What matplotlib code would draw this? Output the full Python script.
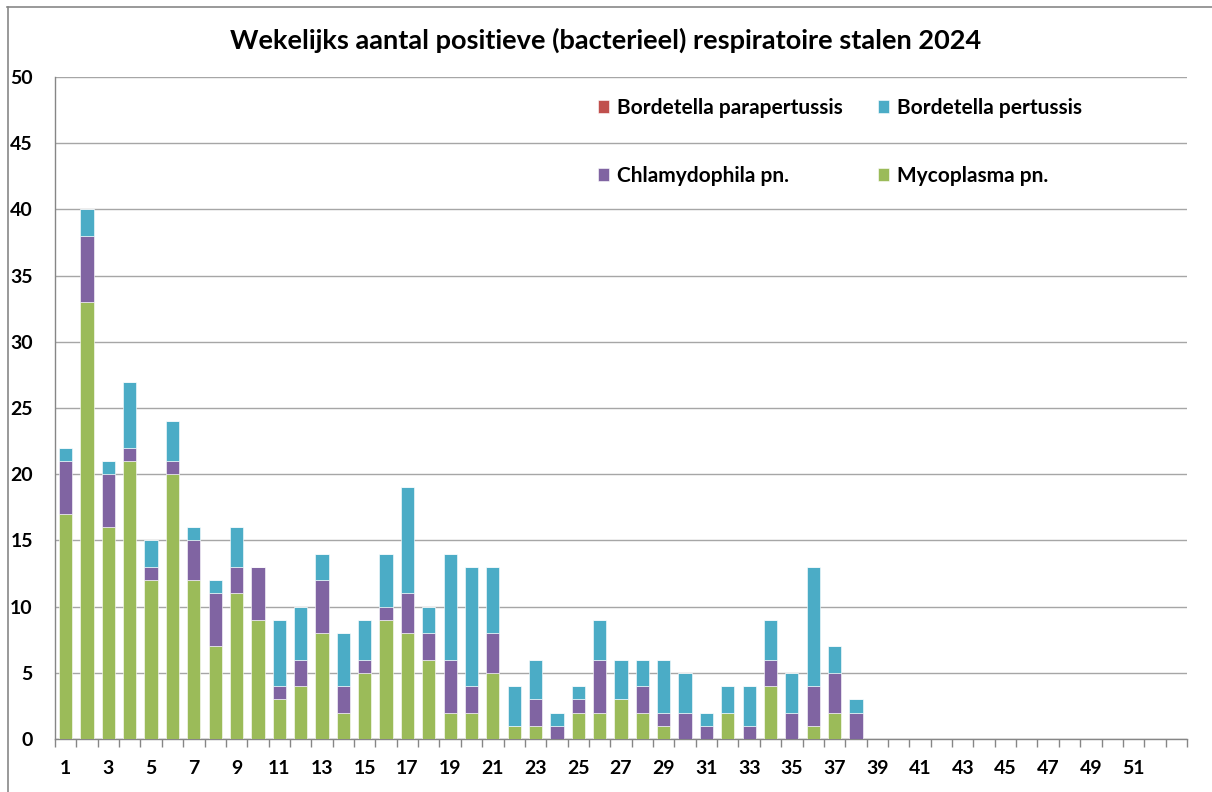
import matplotlib
matplotlib.use("Agg")
import matplotlib.pyplot as plt
from matplotlib.lines import Line2D
import numpy as np

plt.rcParams['font.family'] = ['Lato', 'DejaVu Sans']

weeks = list(range(1, 54))
week_labels = [str(w) if (w % 2 == 1 and w <= 51) else '' for w in weeks]

mycoplasma = [17, 33, 16, 21, 12, 20, 12, 7, 11, 9, 3, 4, 8, 2, 5, 9, 8, 6, 2, 2,
              5, 1, 1, 0, 2, 2, 3, 2, 1, 0, 0, 2, 0, 4, 0, 1, 2, 0] + [0] * 15
chlamydophila = [4, 5, 4, 1, 1, 1, 3, 4, 2, 4, 1, 2, 4, 2, 1, 1, 3, 2, 4, 2,
                 3, 0, 2, 1, 1, 4, 0, 2, 1, 2, 1, 0, 1, 2, 2, 3, 3, 2] + [0] * 15
pertussis = [1, 2, 1, 5, 2, 3, 1, 1, 3, 0, 5, 4, 2, 4, 3, 4, 8, 2, 8, 9,
             5, 3, 3, 1, 1, 3, 3, 2, 4, 3, 1, 2, 3, 3, 3, 9, 2, 1] + [0] * 15
parapertussis = [0] * 53

series = [
    ("Mycoplasma pn.", mycoplasma, "#9BBB59"),
    ("Chlamydophila pn.", chlamydophila, "#8064A2"),
    ("Bordetella pertussis", pertussis, "#4BACC6"),
    ("Bordetella parapertussis", parapertussis, "#C0504D"),
]

W, H = 1212, 792
fig = plt.figure(figsize=(W / 100, H / 100), dpi=100)
ax = fig.add_axes([55 / W, 1 - 739 / H, (1187 - 55) / W, (739 - 77) / H])

x = np.arange(len(weeks))
bottom = np.zeros(len(weeks))
handles = {}
for name, vals, col in series:
    v = np.array(vals, dtype=float)
    b = ax.bar(x, v, 0.62, bottom=bottom, color=col, edgecolor='white',
               linewidth=0.4, label=name, zorder=3)
    handles[name] = b
    bottom += v

ax.set_xlim(-0.5, len(weeks) - 0.5)
ax.set_ylim(0, 50)
ax.set_yticks(np.arange(0, 51, 5))
ax.yaxis.grid(True, color='#A6A6A6', linewidth=1.0, zorder=0)
ax.set_axisbelow(True)

ax.set_xticks(x)
ax.set_xticklabels(week_labels)
ax.set_xticks(np.arange(-0.5, len(weeks), 1), minor=True)
ax.tick_params(axis='x', which='major', length=0, pad=15)
ax.tick_params(axis='x', which='minor', length=6, color='#868686', width=1)
ax.tick_params(axis='y', length=0, pad=16)
for lab in ax.get_xticklabels() + ax.get_yticklabels():
    lab.set_fontsize(14)
    lab.set_fontweight('bold')

for s in ['top', 'right']:
    ax.spines[s].set_visible(False)
for s in ['left', 'bottom']:
    ax.spines[s].set_color('#868686')
    ax.spines[s].set_linewidth(1)

# column-major fill: column 1 = first two, column 2 = last two
order = ["Bordetella parapertussis", "Chlamydophila pn.", "Bordetella pertussis", "Mycoplasma pn."]
leg = ax.legend([handles[n] for n in order], order, ncol=2, loc='upper left',
                bbox_to_anchor=(0.463, 0.997), frameon=False,
                prop={'weight': 'bold', 'size': 15},
                handlelength=0.55, handleheight=0.55, handletextpad=0.35,
                labelspacing=2.3, columnspacing=1.7)

fig.text(0.5, 1 - 40 / H, "Wekelijks aantal positieve (bacterieel) respiratoire stalen 2024",
         ha='center', va='center', fontsize=19.5, fontweight='bold')

# outer chart border (top and left edges visible)
fig.add_artist(Line2D([7 / W, 1.0], [1 - 6.5 / H, 1 - 6.5 / H], transform=fig.transFigure,
                      color='#878787', linewidth=1.2))
fig.add_artist(Line2D([7.5 / W, 7.5 / W], [0, 1 - 6.5 / H], transform=fig.transFigure,
                      color='#878787', linewidth=1.2))

fig.savefig("out.png", dpi=100)
